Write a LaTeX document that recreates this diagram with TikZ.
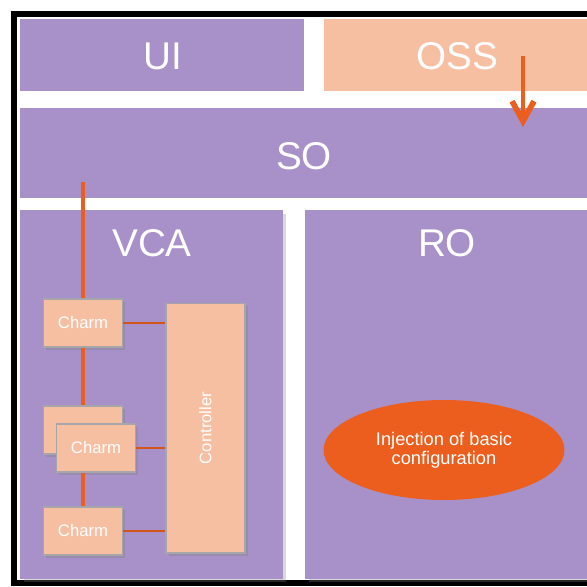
\documentclass[tikz,border=0pt]{standalone}
\usepackage{fontspec}
\setmainfont{Liberation Sans}
\usetikzlibrary{arrows.meta,positioning,shapes.geometric,shadows}
\definecolor{lilac}{RGB}{167,145,200}
\definecolor{peach}{RGB}{247,191,162}
\definecolor{flame}{RGB}{236,94,30}
\definecolor{rim}{RGB}{165,165,170}
\tikzset{
  frame/.style={line width=0.12cm,black},
  layer/.style={fill=lilac,inner sep=0pt},
  title/.style={text=white,font=\fontsize{22}{24}\selectfont},
  charm/.style={fill=peach,draw=rim,line width=0.6pt,inner sep=0pt,
    minimum width=1.58cm,minimum height=0.96cm,text=white,
    font=\fontsize{9.5}{11}\selectfont,
    drop shadow={shadow xshift=1.5pt,shadow yshift=-1.5pt,opacity=0.35}},
  bus/.style={line width=2pt,flame},
  tie/.style={line width=0.9pt,flame!90!black},
  feed/.style={line width=2.2pt,flame,
    -{Straight Barb[length=0.4cm,width=0.44cm,line width=3.2pt]}},
  blob/.style={ellipse,fill=flame,inner sep=0pt,minimum width=4.82cm,
    minimum height=2cm,align=center,text=white,
    font=\fontsize{10.4}{11}\selectfont}
}
\begin{document}
\begin{tikzpicture}[x=0.02cm,y=-0.02cm]
  \useasboundingbox (0,0) rectangle (587,586);
  \draw[frame] (14,13.5) rectangle (640,583);
  % top row
  \node[layer,minimum width=5.68cm,minimum height=1.44cm] (ui) at (162,55) {};
  \node[layer,fill=peach,minimum width=5.26cm,minimum height=1.44cm] (oss) at (455.5,55) {};
  \node[layer,minimum width=11.34cm,minimum height=1.8cm] (so) at (303.5,153) {};
  \node[title] (uit) at (163,56) {UI};
  \node[title] (osst) at (457,56) {OSS};
  \node[title] (sot) at (304,156) {SO};
  % lower boxes
  \node[layer,minimum width=5.26cm,minimum height=7.38cm,
    drop shadow={shadow xshift=2pt,shadow yshift=-2pt,opacity=0.3}] (vca) at (151.5,394.5) {};
  \node[layer,minimum width=5.64cm,minimum height=7.38cm,
    drop shadow={shadow xshift=2pt,shadow yshift=-2pt,opacity=0.3}] (ro) at (446,394.5) {};
  \node[title] (vcat) at (152,243) {VCA};
  \node[title] (rot) at (447,243) {RO};
  % charms and controller
  \node[charm] (charma) at (83,323) {Charm};
  \node[charm] (charmb) at (83,430) {};
  \node[charm] (charmc) at (96,448) {Charm};
  \node[charm] (charmd) at (83,531) {Charm};
  \node[charm,minimum width=5cm,minimum height=1.58cm,rotate=90] (ctrl) at (205.5,428) {Controller};
  \coordinate (sotap) at (83,182);
  \draw[bus] (sotap) -- (charma.north);
  \draw[bus] (charma.south) -- (charmb.north);
  \draw[bus] (charmd.north |- charmc.south) -- (charmd.north);
  \draw[tie] (charma.east) -- (charma.east -| ctrl.north);
  \draw[tie] (charmc.east) -- (charmc.east -| ctrl.north);
  \draw[tie] (charmd.east) -- (charmd.east -| ctrl.north);
  % injection
  \node[blob] (inject) at (444,450) {Injection of basic\\configuration};
  \coordinate (ossout) at (523,56);
  \coordinate (soin) at (523,127);
  \draw[feed] (ossout) -- (soin);
\end{tikzpicture}
\end{document}
